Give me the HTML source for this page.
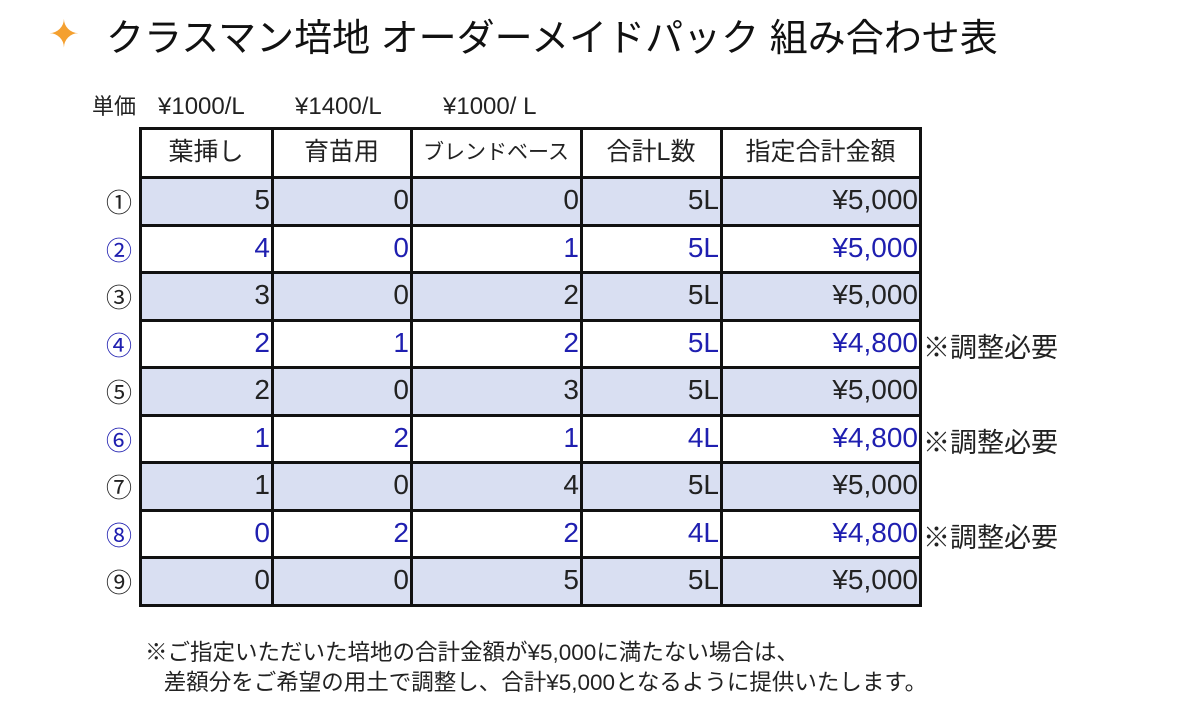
<!DOCTYPE html>
<html><head><meta charset="utf-8"><style>
body{margin:0;width:1200px;height:708px;background:#fff;position:relative;overflow:hidden;font-family:"Liberation Sans","Noto Sans CJK JP",sans-serif;color:#222}
.a{position:absolute;white-space:nowrap}
.c{position:absolute;box-sizing:border-box;font-size:28px;line-height:46px;text-align:right;padding-right:2px}
.h{text-align:center;font-size:25px;padding:0}
.b{background:#d9dff2}
.bl{color:#1f1fb0}
.hl{position:absolute;background:#111;left:139px;width:783px;height:3px}
.vl{position:absolute;background:#111;top:127px;width:3px;height:480px}
.p{position:absolute;top:92px;height:30px;line-height:30px;font-size:24px;white-space:nowrap}
</style></head><body>
<div class="a" style="left:48px;top:12px;font-size:38px;color:#f4a030">✦</div>
<div class="a" style="left:106px;top:7px;font-size:38px;color:#111">クラスマン培地 オーダーメイドパック 組み合わせ表</div>
<div class="p" style="left:92px;font-size:22px">単価</div>
<div class="p" style="left:158px">¥1000/L</div>
<div class="p" style="left:295px">¥1400/L</div>
<div class="p" style="left:443px">¥1000/ L</div>
<div id="t"></div>
<div class="a" style="left:145px;top:638px;font-size:22.5px;line-height:30px">※ご指定いただいた培地の合計金額が¥5,000に満たない場合は、<br>&nbsp;&nbsp;&nbsp;差額分をご希望の用土で調整し、合計¥5,000となるように提供いたします。</div>
<script>
const xs=[140,272,411,581,721,920],ys=[128,177,225,272,320,367,415,462,510,557,605];
const hd=["葉挿し","育苗用","ブレンドベース","合計L数","指定合計金額"];
const d=[[5,0,0,"5L","¥5,000"],[4,0,1,"5L","¥5,000"],[3,0,2,"5L","¥5,000"],[2,1,2,"5L","¥4,800"],[2,0,3,"5L","¥5,000"],[1,2,1,"4L","¥4,800"],[1,0,4,"5L","¥5,000"],[0,2,2,"4L","¥4,800"],[0,0,5,"5L","¥5,000"]];
const L="①②③④⑤⑥⑦⑧⑨";let h="";
for(let j=0;j<5;j++)h+=`<div class="c h" style="left:${xs[j]}px;top:${ys[0]}px;width:${xs[j+1]-xs[j]}px;height:49px;line-height:49px;${j==2?'font-size:21px':''}">${hd[j]}</div>`;
d.forEach((r,i)=>{const odd=i%2==0,y=ys[i+1];
h+=`<div class="a ${odd?'':'bl'}" style="left:106px;top:${y+6}px;font-size:26px">${L[i]}</div>`;
r.forEach((v,j)=>{h+=`<div class="c ${odd?'b':'bl'}" style="left:${xs[j]}px;top:${y}px;width:${xs[j+1]-xs[j]}px;height:${ys[i+2]-y}px">${v}</div>`});
if(r[4]=="¥4,800")h+=`<div class="a" style="left:923px;top:${y+6}px;font-size:27px">※調整必要</div>`;});
ys.forEach(y=>h+=`<div class="hl" style="top:${y-1}px"></div>`);
xs.forEach(x=>h+=`<div class="vl" style="left:${x-1}px"></div>`);
document.getElementById("t").innerHTML=h;
</script>
</body></html>
